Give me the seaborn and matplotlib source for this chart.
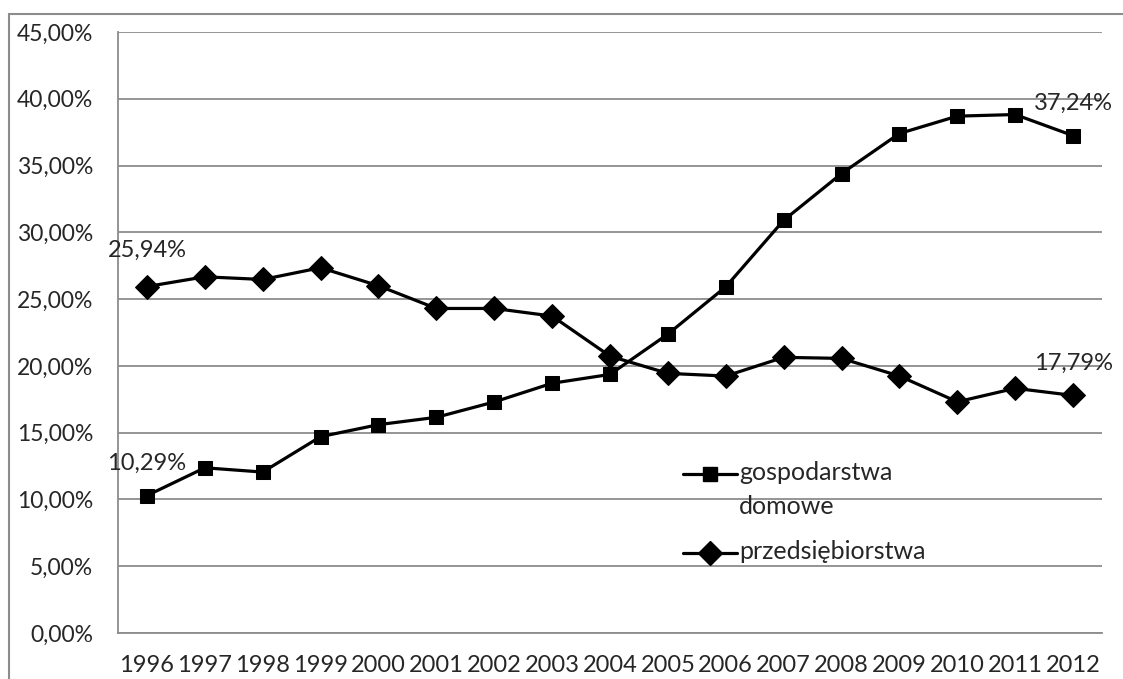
import matplotlib
matplotlib.use("Agg")
import matplotlib.pyplot as plt
from matplotlib.patches import Rectangle
from matplotlib.lines import Line2D
from matplotlib.ticker import FuncFormatter, MultipleLocator
import seaborn as sns

years = list(range(1996, 2013))
gospodarstwa = [10.29, 12.37, 12.05, 14.70, 15.60, 16.15, 17.30, 18.70, 19.36,
                22.38, 25.92, 30.90, 34.40, 37.40, 38.70, 38.82, 37.24]
przedsiebiorstwa = [25.94, 26.67, 26.47, 27.35, 26.00, 24.30, 24.30, 23.73, 20.73,
                    19.44, 19.24, 20.64, 20.56, 19.24, 17.31, 18.32, 17.79]
label_gosp = "gospodarstwa\ndomowe"
label_przed = "przedsiębiorstwa"

sns.set_style("white")
plt.rcParams["font.family"] = ["Lato", "DejaVu Sans"]
GRAY = "#8c8c8c"

W, H = 1123, 679
fig = plt.figure(figsize=(W / 100, H / 100), dpi=100)
# outer chart frame (Excel chart area border)
fig.patches.append(Rectangle((9 / W, -0.01), 1.1, 1 - 14 / H + 0.01,
                             transform=fig.transFigure, fill=False,
                             edgecolor=GRAY, lw=1.5))
ax = fig.add_axes([118 / W, 1 - 633 / H, (1102 - 118) / W, (633 - 32) / H])

x = list(range(len(years)))
sns.lineplot(x=x, y=gospodarstwa, color="black", marker="s", markersize=9.5,
             linewidth=2.3, markeredgecolor="black", ax=ax)
sns.lineplot(x=x, y=przedsiebiorstwa, color="black", marker="D", markersize=12,
             linewidth=2.3, markeredgecolor="black", ax=ax)

ax.set_xlim(-0.5, len(years) - 0.5)
ax.set_ylim(0, 45)
ax.yaxis.set_major_locator(MultipleLocator(5))
ax.yaxis.set_major_formatter(FuncFormatter(lambda v, p: f"{v:.2f}%".replace(".", ",")))
ax.set_xticks([i - 0.5 for i in range(len(years) + 1)])
ax.set_xticklabels([])
ax.set_xticks(x, minor=True)
ax.set_xticklabels([str(y) for y in years], minor=True)
ax.tick_params(axis="x", which="major", length=7, color=GRAY, width=1.3)
ax.tick_params(axis="x", which="minor", length=0, pad=16, labelsize=17)
ax.tick_params(axis="y", length=7, color=GRAY, width=1.3, labelsize=16.5, pad=11)

ax.grid(axis="y", color=GRAY, lw=1.3)
ax.set_axisbelow(True)
for s in ["top", "right"]:
    ax.spines[s].set_visible(False)
for s in ["left", "bottom"]:
    ax.spines[s].set_color(GRAY)
    ax.spines[s].set_linewidth(1.3)

# data labels at first and last points
last = len(years) - 1
for i, vals, off in [(0, gospodarstwa, 23), (last, gospodarstwa, 23),
                     (0, przedsiebiorstwa, 26), (last, przedsiebiorstwa, 23)]:
    ax.annotate(f"{vals[i]:.2f}%".replace(".", ","), (i, vals[i]),
                xytext=(0, off), textcoords="offset points",
                ha="center", va="center", fontsize=17)

# legend drawn by hand so the marker sits on the first text line (as in Excel)
for (yy, mk, ms, lab) in [(474, "s", 9.5, label_gosp), (553, "D", 12, label_przed)]:
    fy = 1 - yy / H
    fig.add_artist(Line2D([683 / W, 710 / W, 737 / W], [fy, fy, fy], transform=fig.transFigure,
                          color="black", lw=2.3, marker=mk, markersize=ms, markevery=[1]))
    for k, line in enumerate(lab.split("\n")):
        fig.text(739 / W, 1 - (yy + 6 + 34 * k) / H, line, ha="left", va="baseline",
                 fontsize=18)

plt.savefig("out.png", dpi=100)
plt.close()
